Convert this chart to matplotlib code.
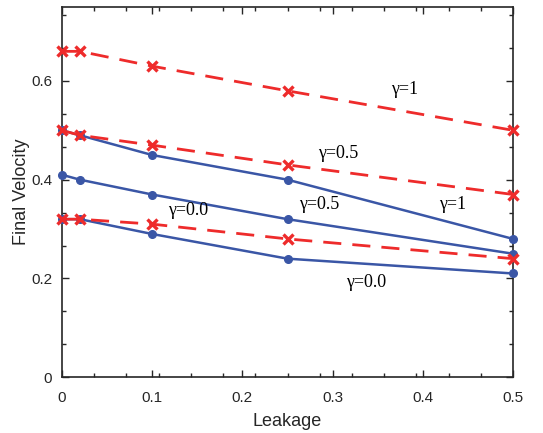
import matplotlib
matplotlib.use("Agg")
import matplotlib.pyplot as plt
from matplotlib.ticker import MultipleLocator

plt.rcParams["font.family"] = ["Liberation Sans", "DejaVu Sans"]

leakage = [0, 0.02, 0.1, 0.25, 0.5]

# dashed (x markers)
red_g1 = [0.66, 0.66, 0.63, 0.58, 0.50]
red_g05 = [0.50, 0.49, 0.47, 0.43, 0.37]
red_g0 = [0.32, 0.32, 0.31, 0.28, 0.24]

# solid (circle markers)
blue_g1 = [0.50, 0.49, 0.45, 0.40, 0.28]
blue_g05 = [0.41, 0.40, 0.37, 0.32, 0.25]
blue_g0 = [0.32, 0.32, 0.29, 0.24, 0.21]

labels = ["γ=1", "γ=0.5", "γ=0.5", "γ=1", "γ=0.0", "γ=0.0"]
label_pos = [(0.380, 0.582), (0.306, 0.453), (0.285, 0.349),
             (0.433, 0.349), (0.337, 0.192), (0.140, 0.337)]

blue = "#3a56a6"
red = "#ee2b2b"

fig = plt.figure(figsize=(5.43, 4.33), dpi=100)
ax = fig.add_axes([0.114, 0.129, 0.831, 0.855])

for ys in [blue_g1, blue_g05, blue_g0]:
    ax.plot(leakage, ys, "-o", color=blue, lw=1.8, ms=5.5, clip_on=False, zorder=3)
for ys in [red_g1, red_g05, red_g0]:
    ax.plot(leakage, ys, "--x", color=red, lw=2.0, ms=6.5, mew=2.4,
            dashes=(6.5, 4), clip_on=False, zorder=4)

for txt, (x, y) in zip(labels, label_pos):
    ax.text(x, y, txt, fontsize=13, family="Liberation Serif",
            ha="center", va="center")

ax.set_xlim(0, 0.5)
ax.set_ylim(0, 0.75)
ax.set_xticks([0, 0.1, 0.2, 0.3, 0.4, 0.5])
ax.set_xticklabels(["0", "0.1", "0.2", "0.3", "0.4", "0.5"])
ax.set_yticks([0, 0.2, 0.4, 0.6])
ax.set_yticklabels(["0", "0.2", "0.4", "0.6"])
ax.xaxis.set_minor_locator(MultipleLocator(0.5 / 14))
ax.yaxis.set_minor_locator(MultipleLocator(0.2 / 3))
ax.tick_params(which="both", direction="in", top=True, right=True,
               labelsize=11, colors="#262626", pad=7)
ax.tick_params(axis="x", which="both", pad=10)
ax.tick_params(which="major", length=5, width=1)
ax.tick_params(which="minor", length=3, width=1)
for s in ax.spines.values():
    s.set_linewidth(1.2)
    s.set_color("#262626")

ax.set_xlabel("Leakage", fontsize=13, color="#262626", labelpad=6)
ax.set_ylabel("Final Velocity", fontsize=13, color="#262626", labelpad=1)

fig.savefig("out.png", dpi=100)
